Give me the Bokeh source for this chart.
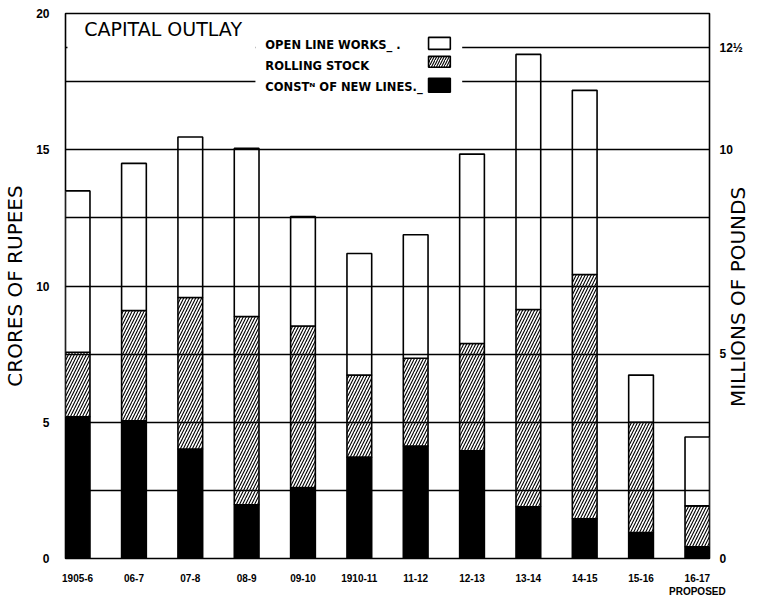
import numpy as np
from bokeh.plotting import figure
from bokeh.models import LinearAxis, FixedTicker, Label, BoxAnnotation, Range1d
from bokeh.embed import file_html
from bokeh.resources import INLINE

# ---------------- data (crores of rupees) ----------------
categories = ["1905-6", "06-7", "07-8", "08-9", "09-10", "1910-11",
              "11-12", "12-13", "13-14", "14-15", "15-16", "16-17"]
category_notes = {"16-17": "PROPOSED"}
new_lines = [5.20, 5.05, 4.02, 1.97, 2.60, 3.72, 4.13, 3.95, 1.90, 1.46, 0.95, 0.43]
rolling_stock = [2.37, 4.05, 5.56, 6.91, 5.93, 3.01, 3.22, 3.94, 7.24, 8.96, 4.05, 1.50]
open_line_works = [5.92, 5.40, 5.89, 6.17, 4.02, 4.46, 4.53, 6.95, 9.36, 6.76, 1.73, 2.53]

series_names = ["OPEN LINE WORKS_ .", "ROLLING STOCK", "CONSTᴺ OF NEW LINES._"]
left_ticks = [0, 5, 10, 15, 20]
pound_ticks = [0, 5, 10, 12.5]           # millions of pounds
pound_tick_labels = ["0", "5", "10", "12½"]
CRORES_PER_MILLION_POUNDS = 1.5
grid_levels = [2.5, 5, 7.5, 10, 12.5, 15, 17.5, 18.75]

# ---------------- layout helpers ----------------
X0, X1 = -0.215, 11.215
Y0, Y1 = 0, 20
W, H = 765, 599
FL, FR, FT, FB = 60, 711, 13, 560   # frame edges in page pixels


def xd(px):
    return X0 + (px - FL) * (X1 - X0) / (FR - FL)


def yd(py):
    return Y1 - (py - FT) * (Y1 - Y0) / (FB - FT)


BAR_W = 25 * (X1 - X0) / (FR - FL)
LW = 1.6
FONT = "DejaVu Sans"
NFONT = "Liberation Sans"

p = figure(width=W, height=H, output_backend="svg", toolbar_location=None,
           x_range=Range1d(X0, X1), y_range=Range1d(Y0, Y1),
           min_border_left=FL, min_border_right=W - FR, min_border_top=FT,
           min_border_bottom=H - FB, background_fill_color="white",
           border_fill_color="white")
p.outline_line_color = "black"
p.outline_line_width = LW

# ---------------- bars ----------------
x = np.arange(len(categories))
b1 = np.array(new_lines)
b2 = b1 + np.array(rolling_stock)
b3 = b2 + np.array(open_line_works)

p.vbar(x=x, width=BAR_W, bottom=0, top=b1, fill_color="black",
       line_color="black", line_width=LW)
p.vbar(x=x, width=BAR_W, bottom=b1, top=b2, fill_color="white",
       hatch_pattern="/", hatch_color="black", hatch_scale=6, hatch_weight=1.1,
       line_color="black", line_width=LW)
p.vbar(x=x, width=BAR_W, bottom=b2, top=b3, fill_color="white",
       line_color="black", line_width=LW)

# ---------------- grid (drawn over bars) ----------------
p.xgrid.visible = False
p.ygrid.ticker = FixedTicker(ticks=grid_levels)
p.ygrid.grid_line_color = "black"
p.ygrid.grid_line_width = 1.4
p.ygrid.level = "guide"

# ---------------- axes ----------------
p.xaxis.ticker = FixedTicker(ticks=list(range(len(categories))))
p.xaxis.major_label_overrides = {
    i: (c + "\n" + category_notes[c]) if c in category_notes else c
    for i, c in enumerate(categories)}
p.xaxis.axis_line_color = None
p.xaxis.major_tick_line_color = None
p.xaxis.minor_tick_line_color = None
p.xaxis.major_label_standoff = 8
p.xaxis.major_label_text_font = NFONT
p.xaxis.major_label_text_font_style = "bold"
p.xaxis.major_label_text_font_size = "10px"
p.xaxis.major_label_text_color = "black"

p.yaxis.ticker = FixedTicker(ticks=left_ticks)
p.yaxis.axis_line_color = None
p.yaxis.major_tick_line_color = None
p.yaxis.minor_tick_line_color = None
p.yaxis.major_label_standoff = 10
p.yaxis.major_label_text_font = NFONT
p.yaxis.major_label_text_font_style = "bold"
p.yaxis.major_label_text_font_size = "12px"
p.yaxis.major_label_text_color = "black"
p.yaxis.axis_label = "CRORES OF RUPEES"
p.yaxis.axis_label_standoff = 6
p.yaxis.axis_label_text_font = FONT
p.yaxis.axis_label_text_font_style = "normal"
p.yaxis.axis_label_text_font_size = "20px"
p.yaxis.axis_label_text_color = "black"

right_ticks = [t * CRORES_PER_MILLION_POUNDS for t in pound_ticks]
raxis = LinearAxis(ticker=FixedTicker(ticks=right_ticks),
                   major_label_overrides={t: l for t, l in zip(right_ticks, pound_tick_labels)},
                   axis_line_color=None, major_tick_line_color=None,
                   minor_tick_line_color=None, major_label_standoff=4,
                   major_label_text_font=NFONT, major_label_text_font_style="bold",
                   major_label_text_font_size="12px", major_label_text_color="black")
p.add_layout(raxis, "right")

# right-hand title, drawn as the single label of an outer right axis
# (starts at the bottom of the lettering and reads upwards)
RIGHT_TITLE = "MILLIONS OF POUNDS"
right_title_start = yd(408)
rtitle = LinearAxis(ticker=FixedTicker(ticks=[right_title_start]),
                    major_label_overrides={right_title_start: RIGHT_TITLE},
                    major_label_orientation=np.pi / 2,
                    axis_line_color=None, major_tick_line_color=None,
                    minor_tick_line_color=None, major_label_standoff=-13,
                    major_label_text_font=FONT, major_label_text_font_style="normal",
                    major_label_text_font_size="20px", major_label_text_color="black")
p.add_layout(rtitle, "right")

# ---------------- blank area behind title / legend ----------------
p.add_layout(BoxAnnotation(left=xd(252), right=xd(461), bottom=yd(95), top=yd(30),
                           fill_color="white", fill_alpha=1, line_color=None))
p.add_layout(BoxAnnotation(left=xd(62), right=xd(252), bottom=yd(62), top=yd(30),
                           fill_color="white", fill_alpha=1, line_color=None))

# ---------------- title & legend ----------------
p.add_layout(Label(x=xd(79), y=yd(29), text="CAPITAL OUTLAY", text_font=FONT,
                   text_font_size="19px", text_baseline="middle", text_align="left",
                   text_color="black", level="overlay"))

legend_rows_y = [45, 66, 87]
for name, py in zip(series_names, legend_rows_y):
    p.add_layout(Label(x=xd(262), y=yd(py), text=name, text_font=FONT,
                       text_font_style="bold", text_font_size="11.5px",
                       text_baseline="middle", text_align="left",
                       text_color="black", level="overlay"))

sw_l, sw_r = xd(427), xd(449)
r = p.quad(left=[sw_l], right=[sw_r], top=[yd(37)], bottom=[yd(49)],
           fill_color="white", line_color="black", line_width=LW)
r.level = "overlay"
r = p.quad(left=[sw_l], right=[sw_r], top=[yd(56)], bottom=[yd(67)],
           fill_color="white", hatch_pattern="/", hatch_color="black",
           hatch_scale=5, hatch_weight=1.1, line_color="black", line_width=LW)
r.level = "overlay"
r = p.quad(left=[sw_l], right=[sw_r], top=[yd(78)], bottom=[yd(92)],
           fill_color="black", line_color="black", line_width=LW)
r.level = "overlay"

open("out.html", "w").write(file_html(p, INLINE))
